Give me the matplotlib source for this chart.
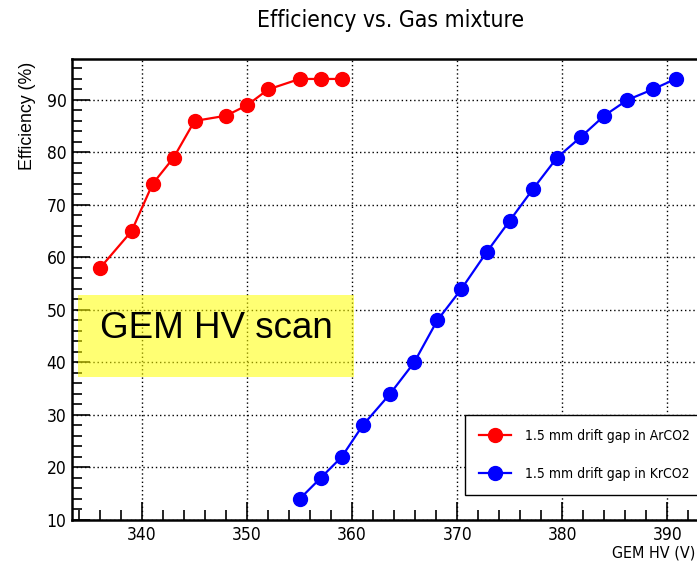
import matplotlib
matplotlib.use("Agg")
import matplotlib.pyplot as plt
from matplotlib.patches import Rectangle
from matplotlib.ticker import MultipleLocator

# Data
ar_hv = [336, 339, 341, 343, 345, 348, 350, 352, 355, 357, 359]
ar_eff = [58, 65, 74, 79, 86, 87, 89, 92, 94, 94, 94]
kr_hv = [355, 357, 359, 361, 363.6, 365.9, 368.1, 370.4, 372.8, 375, 377.2,
         379.5, 381.8, 384, 386.2, 388.6, 390.8]
kr_eff = [14, 18, 22, 28, 34, 40, 48, 54, 61, 67, 73, 79, 83, 87, 90, 92, 94]
ar_label = "1.5 mm drift gap in ArCO2"
kr_label = "1.5 mm drift gap in KrCO2"
title = "Efficiency vs. Gas mixture"
xlabel = "GEM HV (V)"
ylabel = "Efficiency (%)"
box_text = "GEM HV scan"

narrow = ['DejaVu Sans']
regular = ['Liberation Sans', 'DejaVu Sans']

W, H = 697, 562
fig = plt.figure(figsize=(W / 100, H / 100), dpi=100)
left, right, top, bottom = 72, 703, 59, 520
ax = fig.add_axes([left / W, 1 - bottom / H, (right - left) / W, (bottom - top) / H])

ax.set_xlim(333.33, 393.4)
ax.set_ylim(10, 97.8)

ax.plot(ar_hv, ar_eff, color='red', lw=1.6, marker='o', ms=10, mec='red', mfc='red',
        label=ar_label, zorder=4)
ax.plot(kr_hv, kr_eff, color='blue', lw=1.6, marker='o', ms=10, mec='blue', mfc='blue',
        label=kr_label, zorder=4)

ax.xaxis.set_major_locator(MultipleLocator(10))
ax.xaxis.set_minor_locator(MultipleLocator(2))
ax.yaxis.set_major_locator(MultipleLocator(10))
ax.yaxis.set_minor_locator(MultipleLocator(2))
ax.tick_params(which='both', direction='in', top=False, right=False, width=1.2, color='black')
ax.tick_params(which='major', length=13)
ax.tick_params(which='minor', length=7)
ax.tick_params(axis='x', which='major', pad=4)
ax.tick_params(axis='y', which='major', pad=4)
for lbl in ax.get_xticklabels() + ax.get_yticklabels():
    lbl.set_family(narrow)
    lbl.set_stretch('condensed')
    lbl.set_fontsize(12.5)

ax.grid(True, which='major', color='black', linestyle=(0, (1, 2)), lw=1.0)
ax.set_axisbelow(True)
for s in ax.spines.values():
    s.set_linewidth(1.8)

fig.text(391 / W, 1 - 20 / H, title, ha='center', va='center', fontsize=16.5, family=narrow,
         stretch='condensed')
fig.text(28 / W, 1 - 62 / H, ylabel, rotation=90, ha='center', va='top', fontsize=12.8,
         family=regular)
fig.text(695 / W, 1 - 553 / H, xlabel, ha='right', va='center', fontsize=11.5, family=narrow,
         stretch='condensed')

# Yellow semi-transparent box
x0, x1, y0, y1 = 78, 354, 295, 377
rect = Rectangle((x0 / W, 1 - y1 / H), (x1 - x0) / W, (y1 - y0) / H,
                 transform=fig.transFigure, facecolor=(1, 1, 0, 0.55), edgecolor='none', zorder=5)
fig.add_artist(rect)
fig.text((x0 + x1) / 2 / W, 1 - 328 / H, box_text, ha='center', va='center', fontsize=26.5,
         family=regular, zorder=6)

leg = ax.legend(loc='upper left', bbox_to_anchor=(465 / W, 1 - 415 / H),
                bbox_transform=fig.transFigure,
                prop={'family': narrow, 'size': 10, 'stretch': 'condensed'},
                frameon=True, fancybox=False, edgecolor='black', framealpha=1,
                borderpad=1.0, labelspacing=1.75, handlelength=2.3, handletextpad=1.0,
                borderaxespad=0, markerscale=1.0)
leg.get_frame().set_linewidth(1.0)

fig.savefig("out.png", dpi=100)
